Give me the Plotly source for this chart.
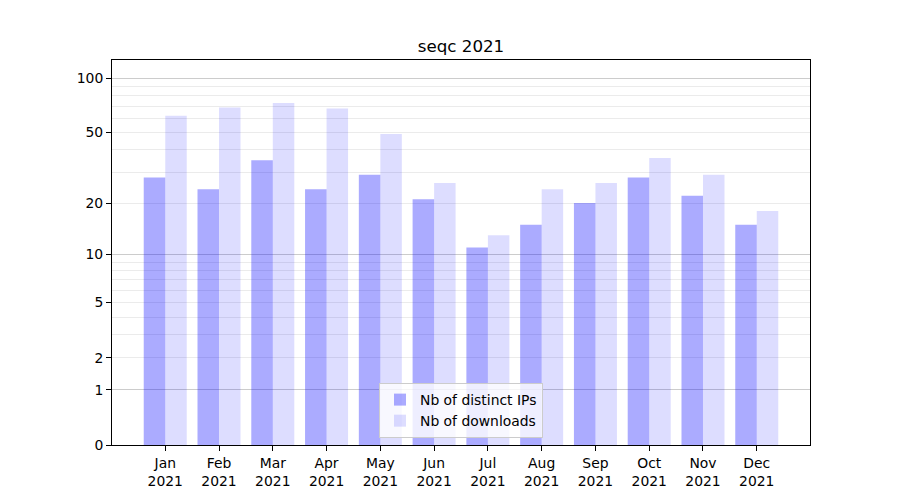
import numpy as np
import plotly.graph_objects as go

months = ["Jan", "Feb", "Mar", "Apr", "May", "Jun", "Jul", "Aug", "Sep", "Oct", "Nov", "Dec"]
year = "2021"
distinct_ips = [28, 24, 35, 24, 29, 21, 11, 15, 20, 28, 22, 15]
downloads = [62, 69, 73, 68, 49, 26, 13, 24, 26, 36, 29, 18]
ytick_values = [0, 1, 2, 5, 10, 20, 50, 100]
major_grid_values = [1, 10, 100]
minor_grid_values = [2, 3, 4, 5, 6, 7, 8, 9, 20, 30, 40, 50, 60, 70, 80, 90]


def f(v):
    return np.log10(1 + np.asarray(v, dtype=float))


x = list(range(len(months)))
ticktext = [f"{m}<br>{year}" for m in months]

fig = go.Figure()
fig.add_trace(go.Bar(x=x, y=f(distinct_ips), name="Nb of distinct IPs",
                     marker=dict(color="rgba(0,0,255,0.33)", line=dict(width=0)),
                     customdata=distinct_ips, hovertemplate="%{customdata}<extra></extra>"))
fig.add_trace(go.Bar(x=x, y=f(downloads), name="Nb of downloads",
                     marker=dict(color="rgba(0,0,255,0.135)", line=dict(width=0)),
                     customdata=downloads, hovertemplate="%{customdata}<extra></extra>"))
fig.add_trace(go.Scatter(x=[None], y=[None], yaxis="y2", showlegend=False, hoverinfo="skip"))

yrange = [0, 2.104]
font = dict(family="DejaVu Sans", size=13.9, color="black")

fig.update_layout(
    width=900, height=500,
    margin=dict(l=104, r=98, t=52, b=63),
    paper_bgcolor="white", plot_bgcolor="white",
    barmode="group", bargap=0.2, bargroupgap=0,
    font=font,
    title=dict(text="seqc 2021", x=(104 + 802) / 2 / 900, xanchor="center", y=1 - 38 / 500,
               yanchor="middle", yref="container",
               font=dict(family="DejaVu Sans", size=16.7, color="black")),
    xaxis=dict(range=[-0.99, 11.99], tickmode="array", tickvals=x, ticktext=ticktext,
               showgrid=False, zeroline=False, showline=True, linecolor="black", linewidth=1,
               mirror=True, ticks="outside", ticklen=5, tickcolor="black", tickfont=font),
    yaxis=dict(range=yrange, tickmode="array", tickvals=f(ytick_values).tolist(),
               ticktext=[str(v) for v in ytick_values], showgrid=False, zeroline=False,
               showline=True, linecolor="black", linewidth=1, mirror=True,
               ticks="outside", ticklen=5, tickcolor="black", tickfont=font,
               minor=dict(tickmode="array", tickvals=f(minor_grid_values).tolist(),
                          showgrid=True, gridcolor="#ebebeb", gridwidth=1, ticks="")),
    yaxis2=dict(range=yrange, overlaying="y", side="left", tickmode="array",
                tickvals=f(major_grid_values).tolist(), showticklabels=False, ticks="",
                showgrid=True, gridcolor="#cccccc", gridwidth=1, zeroline=False, showline=False),
    legend=dict(x=0.5, xanchor="center", y=0.018, yanchor="bottom",
                bgcolor="rgba(255,255,255,0.8)", bordercolor="#cccccc", borderwidth=1,
                font=dict(family="DejaVu Sans", size=13.9, color="black"),
                itemwidth=30, tracegroupgap=0),
    showlegend=True,
)

fig.write_html("out.html")
